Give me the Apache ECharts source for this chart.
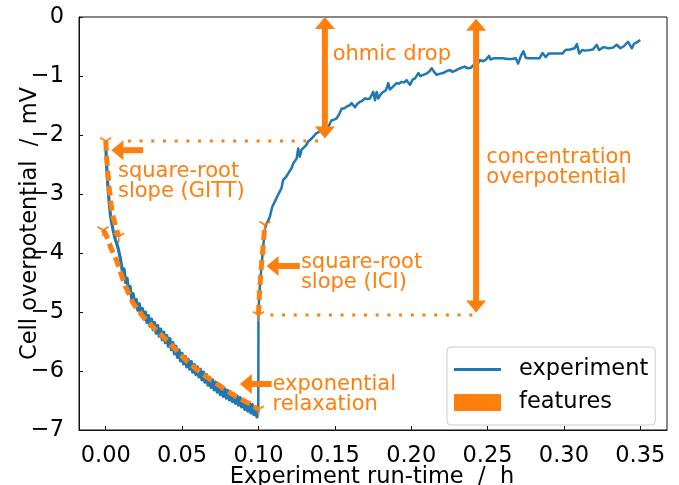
<!DOCTYPE html>
<html><head><meta charset="utf-8">
<script src="https://cdn.jsdelivr.net/npm/echarts@6/dist/echarts.min.js"></script>
<style>html,body{margin:0;padding:0;background:#fff}#c{width:679px;height:485px}</style>
</head><body><div id="c"></div>
<script>
// ---- data (time in h, voltage in mV) ----
const pulseData = [
[0.0000,-2.10],[0.0003,-2.35],[0.0006,-2.52],[0.0010,-2.70],[0.0015,-2.90],[0.0020,-3.06],[0.0026,-3.24],[0.0032,-3.38],
[0.0040,-3.50],[0.0048,-3.61],[0.0056,-3.70],[0.0064,-3.78],[0.0072,-3.84],[0.0080,-3.91],[0.0088,-4.00],[0.0095,-4.08],
[0.010,-4.08],[0.011,-4.32],[0.012,-4.27],[0.013,-4.50],[0.014,-4.43],[0.015,-4.66],[0.016,-4.57],[0.017,-4.78],[0.018,-4.69],[0.019,-4.89],
[0.020,-4.79],[0.021,-4.97],[0.022,-4.86],[0.023,-5.05],[0.024,-4.94],[0.025,-5.12],[0.026,-5.00],[0.027,-5.18],[0.028,-5.06],[0.029,-5.24],
[0.030,-5.12],[0.031,-5.30],[0.032,-5.18],[0.033,-5.36],[0.034,-5.23],[0.035,-5.41],[0.036,-5.29],[0.037,-5.47],[0.038,-5.34],[0.039,-5.52],
[0.040,-5.40],[0.041,-5.58],[0.042,-5.45],[0.043,-5.64],[0.044,-5.52],[0.045,-5.71],[0.046,-5.58],[0.047,-5.77],[0.048,-5.64],[0.049,-5.83],
[0.050,-5.70],[0.051,-5.88],[0.052,-5.75],[0.053,-5.93],[0.054,-5.80],[0.055,-5.97],[0.056,-5.84],[0.057,-6.02],[0.058,-5.89],[0.059,-6.06],
[0.060,-5.93],[0.061,-6.10],[0.062,-5.97],[0.063,-6.15],[0.064,-6.02],[0.065,-6.19],[0.066,-6.06],[0.067,-6.24],[0.068,-6.11],[0.069,-6.28],
[0.070,-6.15],[0.071,-6.32],[0.072,-6.19],[0.073,-6.36],[0.074,-6.23],[0.075,-6.40],[0.076,-6.27],[0.077,-6.43],[0.078,-6.30],[0.079,-6.46],
[0.080,-6.33],[0.081,-6.49],[0.082,-6.36],[0.083,-6.52],[0.084,-6.39],[0.085,-6.55],[0.086,-6.42],[0.087,-6.58],[0.088,-6.45],[0.089,-6.61],
[0.090,-6.48],[0.091,-6.65],[0.092,-6.51],[0.093,-6.68],[0.094,-6.54],[0.095,-6.71],[0.096,-6.57],[0.097,-6.74],[0.098,-6.61],[0.099,-6.78],
[0.0999,-6.66]
];
const restData = [
[0.0999,-6.66],
[0.1000,-5.05],[0.1002,-4.90],[0.1005,-4.76],[0.1011,-4.50],[0.1020,-4.22],[0.1030,-3.93],[0.1042,-3.60],[0.1053,-3.50],[0.1064,-3.45],
[0.1075,-3.38],[0.1090,-3.22],[0.1107,-3.13],[0.1118,-3.07],[0.1135,-2.98],[0.1151,-2.90],[0.1162,-2.76],[0.1178,-2.72],[0.1195,-2.65],
[0.1217,-2.56],[0.1228,-2.48],[0.1240,-2.47],[0.1250,-2.40],[0.1260,-2.23],[0.1271,-2.37],[0.1282,-2.25],[0.1293,-2.23],[0.1310,-2.18],
[0.1326,-2.11],[0.1348,-2.06],[0.1365,-2.01],[0.1380,-1.97],[0.1395,-1.95],[0.1413,-1.92],[0.1435,-1.90],[0.1457,-1.86],[0.1479,-1.75],
[0.1495,-1.74],[0.1512,-1.72],[0.1530,-1.64],[0.1545,-1.55],[0.1560,-1.55],[0.1577,-1.52],[0.1595,-1.50],[0.1610,-1.46],[0.1632,-1.53],
[0.1648,-1.47],[0.1664,-1.44],[0.1680,-1.42],[0.1697,-1.38],[0.1715,-1.39],[0.1730,-1.38],[0.1752,-1.27],[0.1763,-1.41],[0.1774,-1.27],
[0.1785,-1.38],[0.1800,-1.31],[0.1817,-1.27],[0.1835,-1.24],[0.1850,-1.12],[0.1860,-1.23],[0.1872,-1.21],[0.1890,-1.16],[0.1905,-1.12],
[0.1920,-1.13],[0.1937,-1.10],[0.1955,-1.11],[0.1970,-1.07],[0.1992,-1.15],[0.2010,-1.06],[0.2025,-1.04],[0.2047,-0.95],[0.2060,-1.00],
[0.2079,-0.98],[0.2100,-0.96],[0.2120,-0.92],[0.2134,-0.87],[0.2150,-0.93],[0.2167,-0.98],[0.2190,-0.96],[0.2210,-0.95],[0.2230,-0.92],
[0.2254,-0.90],[0.2270,-0.93],[0.2290,-0.91],[0.2310,-0.88],[0.2330,-0.86],[0.2350,-0.84],[0.2370,-0.87],[0.2390,-0.86],[0.2410,-0.81],
[0.2428,-0.83],[0.2450,-0.73],[0.2460,-0.70],[0.2472,-0.75],[0.2490,-0.72],[0.2500,-0.74],[0.2510,-0.66],[0.2520,-0.72],[0.2540,-0.70],
[0.2570,-0.70],[0.2600,-0.70],[0.2630,-0.71],[0.2660,-0.71],[0.2685,-0.70],[0.2700,-0.79],[0.2720,-0.65],[0.2735,-0.58],[0.2750,-0.69],
[0.2770,-0.70],[0.2800,-0.70],[0.2840,-0.70],[0.2860,-0.61],[0.2880,-0.68],[0.2900,-0.62],[0.2930,-0.62],[0.2960,-0.62],[0.2990,-0.62],
[0.3010,-0.56],[0.3040,-0.55],[0.3070,-0.53],[0.3085,-0.46],[0.3100,-0.62],[0.3120,-0.56],[0.3140,-0.57],[0.3170,-0.56],[0.3190,-0.55],
[0.3215,-0.47],[0.3230,-0.56],[0.3260,-0.51],[0.3290,-0.53],[0.3320,-0.52],[0.3346,-0.47],[0.3370,-0.53],[0.3390,-0.50],[0.3420,-0.42],
[0.3445,-0.53],[0.3460,-0.45],[0.3477,-0.43],[0.3490,-0.40],[0.3500,-0.39]
];
// feature fits
const gittFit = [[0.0000,-2.10],[0.0005,-2.35],[0.0012,-2.58],[0.0022,-2.88],[0.0035,-3.18],[0.0050,-3.40],[0.0068,-3.58],[0.0085,-3.72]];
const iciFit = [[0.1000,-5.05],[0.1004,-4.80],[0.1011,-4.50],[0.1020,-4.20],[0.1030,-3.90],[0.1042,-3.52]];
const relaxFit = [[-0.0018,-3.61],[0.0000,-3.68],[0.0015,-3.78],[0.0040,-3.95],[0.0070,-4.12],[0.0114,-4.46],[0.0135,-4.60],
[0.0179,-4.85],[0.0245,-5.08],[0.0332,-5.31],[0.0400,-5.48],[0.0463,-5.65],[0.0530,-5.83],[0.0594,-5.97],[0.0660,-6.10],
[0.0725,-6.21],[0.0790,-6.33],[0.0857,-6.44],[0.0944,-6.56],[0.1000,-6.65]];
// dotted guide lines: [tStart, tEnd, v]
const guideLines = [[0.0145, 0.1435, -2.10], [0.1078, 0.2428, -5.05]];
// arrows: [tFrom, vFrom, tTo, vTo, doubleHeaded]
const arrows = [
  [0.1435, -2.06, 0.1435, 0.0, 1],
  [0.2425, -5.01, 0.2425, -0.03, 1],
  [0.0245, -2.26, 0.0037, -2.26, 0],
  [0.1271, -4.22, 0.1053, -4.22, 0],
  [0.1086, -6.22, 0.0878, -6.22, 0]
];
// annotation texts with anchor [t, v] (left edge, vertical centre)
const annText = ['ohmic drop', 'concentration\noverpotential', 'square-root\nslope (GITT)', 'square-root\nslope (ICI)', 'exponential\nrelaxation'];
const annPos = [[0.1486, -0.64], [0.2492, -2.55], [0.0080, -2.79], [0.1278, -4.33], [0.1092, -6.40]];
const xTicks = [0.00, 0.05, 0.10, 0.15, 0.20, 0.25, 0.30, 0.35];
const yTicks = [-7, -6, -5, -4, -3, -2, -1, 0];
const xTitle = 'Experiment run-time  /  h';
const yTitle = 'Cell overpotential  /  mV';

// ---- styling ----
const BLUE = '#1f77b4', ORANGE = '#ff7f0e';
const FONT = 'DejaVu Sans';
const AX_FS = 22.5;
const TRI = 'path://M0,-10M0,0L0,10M0,0L-8.66,-5M0,0L8.66,-5';
const LINE_ICON = 'path://M0,0M47,17M0,7H47V10H0Z';

function fitSeries(arr) {
  const last = arr.length - 1;
  return {
    type: 'line', name: 'features', z: 3,
    data: arr.map((p, i) => ({ value: p, symbol: (i === 0 || i === last) ? TRI : 'none' })),
    showSymbol: true, symbolSize: [11, 12.5],
    itemStyle: { color: ORANGE, borderColor: ORANGE, borderWidth: 1.6 },
    lineStyle: { color: ORANGE, width: 5, type: [10, 5], cap: 'butt' },
    color: ORANGE, animation: false, silent: true
  };
}

function arrowPts(p1, p2, dbl) {
  const dx = p2[0] - p1[0], dy = p2[1] - p1[1];
  const L = Math.hypot(dx, dy), ux = dx / L, uy = dy / L, nx = -uy, ny = ux;
  const w = 3, hw = 10, hl = 12;
  const pt = (p, a, b) => [p[0] + ux * a + nx * b, p[1] + uy * a + ny * b];
  const pts = [];
  if (dbl) pts.push(p1, pt(p1, hl, hw), pt(p1, hl, w)); else pts.push(pt(p1, 0, w));
  pts.push(pt(p2, -hl, w), pt(p2, -hl, hw), p2, pt(p2, -hl, -hw), pt(p2, -hl, -w));
  if (dbl) pts.push(pt(p1, hl, -w), pt(p1, hl, -hw)); else pts.push(pt(p1, 0, -w));
  return pts;
}

const chart = echarts.init(document.getElementById('c'), null, { renderer: 'canvas' });
const option = {
  animation: false,
  backgroundColor: '#fff',
  textStyle: { fontFamily: FONT },
  grid: {
    left: 79, right: 12, top: 17, bottom: 55, containLabel: false, outerBoundsMode: 'none',
    show: true, borderColor: '#111', borderWidth: 1, backgroundColor: 'transparent'
  },
  graphic: {
    elements: [
      { type: 'text', x: 372, y: 477.5, z: 10, silent: true,
        style: { text: xTitle, fontFamily: FONT, fontSize: AX_FS, fill: '#000', align: 'center', verticalAlign: 'middle' } },
      { type: 'text', x: 30, y: 223.5, rotation: Math.PI / 2, z: 10, silent: true,
        style: { text: yTitle, fontFamily: FONT, fontSize: AX_FS, fill: '#000', align: 'center', verticalAlign: 'middle' } }
    ]
  },
  legend: {
    data: [
      { name: 'experiment', icon: LINE_ICON, itemStyle: { color: BLUE, borderWidth: 0 } },
      { name: 'features', icon: 'rect', itemStyle: { color: ORANGE, borderWidth: 0 } }
    ],
    orient: 'vertical', left: 447, top: 347,
    itemWidth: 47, itemHeight: 17, itemGap: 10,
    padding: [11, 7, 11, 7],
    backgroundColor: 'rgba(255,255,255,0.8)', borderColor: '#cccccc', borderWidth: 1, borderRadius: 4,
    textStyle: { fontFamily: FONT, fontSize: AX_FS, color: '#000', lineHeight: 17, padding: [0, 0, 0, 13] }
  },
  xAxis: {
    type: 'value', min: -0.0175, max: 0.3675,
    axisLine: { show: true, onZero: false, lineStyle: { color: '#111', width: 1 } },
    axisTick: { show: true, inside: true, length: 4, customValues: xTicks, lineStyle: { color: '#111' } },
    axisLabel: { customValues: xTicks, formatter: v => v.toFixed(2), margin: 15, fontFamily: FONT, fontSize: AX_FS, color: '#000' },
    splitLine: { show: false }
  },
  yAxis: {
    type: 'value', min: yTicks[0], max: yTicks[yTicks.length - 1], interval: 1,
    axisLine: { show: true, onZero: false, lineStyle: { color: '#111', width: 1 } },
    axisTick: { show: true, inside: true, length: 4, lineStyle: { color: '#111' } },
    axisLabel: { formatter: v => (v < 0 ? '\u2212' + Math.abs(v) : String(v)), margin: 15, fontFamily: FONT, fontSize: AX_FS, color: '#000' },
    splitLine: { show: false }
  },
  series: [
    {
      type: 'line', name: 'experiment', z: 2,
      data: pulseData,
      showSymbol: false, symbol: 'none', color: BLUE,
      lineStyle: { color: BLUE, width: 3.2, join: 'round' }, silent: true
    },
    {
      type: 'line', name: 'experiment', z: 2,
      data: restData,
      showSymbol: false, symbol: 'none', color: BLUE,
      lineStyle: { color: BLUE, width: 2.5, join: 'round' }, silent: true
    },
    fitSeries(gittFit), fitSeries(iciFit), fitSeries(relaxFit),
    ...guideLines.map(g => ({
      type: 'line', name: 'guide', z: 3, silent: true, showSymbol: false, symbol: 'none',
      data: [[g[0], g[2]], [g[1], g[2]]],
      lineStyle: { color: ORANGE, width: 3, type: [3, 8.7], cap: 'butt' }
    })),
    {
      type: 'custom', name: 'arrows', z: 5, silent: true, clip: false,
      data: arrows,
      encode: { x: [0, 2], y: [1, 3] },
      renderItem: (params, api) => {
        const p1 = api.coord([api.value(0), api.value(1)]);
        const p2 = api.coord([api.value(2), api.value(3)]);
        return { type: 'polygon', shape: { points: arrowPts(p1, p2, api.value(4) === 1) }, style: { fill: ORANGE } };
      }
    },
    {
      type: 'custom', name: 'labels', z: 5, silent: true, clip: false,
      data: annPos,
      renderItem: (params, api) => {
        const p = api.coord([api.value(0), api.value(1)]);
        return {
          type: 'text', x: p[0], y: p[1],
          style: { text: annText[params.dataIndex], fill: ORANGE, fontFamily: FONT, fontSize: 21, lineHeight: 20, align: 'left', verticalAlign: 'middle' }
        };
      }
    }
  ]
};
chart.setOption(option);
</script></body></html>
